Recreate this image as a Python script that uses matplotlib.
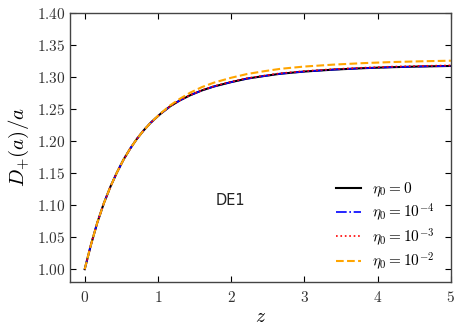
import matplotlib
matplotlib.use("Agg")
import matplotlib.pyplot as plt

plt.rcParams['mathtext.fontset'] = 'cm'
plt.rcParams['font.family'] = 'serif'
plt.rcParams['font.serif'] = ['cmr10', 'DejaVu Serif']
plt.rcParams['axes.formatter.use_mathtext'] = True

# data
z_vals = [0.0, 0.08, 0.17, 0.26, 0.35, 0.44, 0.53, 0.62, 0.71, 0.80, 0.90, 1.03, 1.17,
          1.30, 1.44, 1.60, 1.76, 2.0, 2.22, 2.45, 2.67, 3.0, 3.4, 3.8, 4.2, 4.6, 5.0]
d_eta0 = [1.000, 1.036, 1.072, 1.1025, 1.1285, 1.151, 1.171, 1.188, 1.203, 1.216, 1.2285,
          1.242, 1.2545, 1.2635, 1.2715, 1.279, 1.285, 1.292, 1.2975, 1.3015, 1.305,
          1.3085, 1.3115, 1.3137, 1.3153, 1.3164, 1.3172]
d_eta4 = [1.000, 1.036, 1.072, 1.1025, 1.1285, 1.151, 1.171, 1.188, 1.203, 1.216, 1.2285,
          1.242, 1.2545, 1.2635, 1.2715, 1.279, 1.285, 1.292, 1.2975, 1.3015, 1.305,
          1.3085, 1.3115, 1.3137, 1.3153, 1.3164, 1.3172]
d_eta3 = [1.000, 1.036, 1.072, 1.1025, 1.1285, 1.151, 1.171, 1.188, 1.203, 1.216, 1.2285,
          1.242, 1.2546, 1.2637, 1.2718, 1.2794, 1.2855, 1.2926, 1.2982, 1.3022, 1.3058,
          1.3093, 1.3123, 1.3145, 1.3162, 1.3173, 1.3181]
d_eta2 = [1.000, 1.036, 1.072, 1.1025, 1.1285, 1.151, 1.171, 1.188, 1.203, 1.216, 1.2285,
          1.2425, 1.256, 1.266, 1.2755, 1.2842, 1.291, 1.2988, 1.3047, 1.309, 1.3127,
          1.3163, 1.3193, 1.3216, 1.3233, 1.3245, 1.3254]

labels = [r'$\eta_0 = 0$', r'$\eta_0 = 10^{-4}$', r'$\eta_0 = 10^{-3}$', r'$\eta_0 = 10^{-2}$']
x_ticks = [0, 1, 2, 3, 4, 5]
y_ticks = [1.00, 1.05, 1.10, 1.15, 1.20, 1.25, 1.30, 1.35, 1.40]
y_tick_labels = ['1.00', '1.05', '1.10', '1.15', '1.20', '1.25', '1.30', '1.35', '1.40']
annotation = 'DE1'

fig = plt.figure(figsize=(4.61, 3.31), dpi=100)
ax = fig.add_axes([0.152, 0.148, 0.826, 0.813])

ax.plot(z_vals, d_eta0, color='black', lw=1.5, ls='-', label=labels[0])
ax.plot(z_vals, d_eta4, color='blue', lw=1.2, ls='-.', label=labels[1])
ax.plot(z_vals, d_eta3, color='red', lw=1.2, ls=':', label=labels[2])
ax.plot(z_vals, d_eta2, color='orange', lw=1.5, ls='--', label=labels[3])

ax.set_xlim(-0.2, 5)
ax.set_ylim(0.98, 1.40)
ax.set_xticks(x_ticks)
ax.set_xticklabels([f'${t}$' for t in x_ticks])
ax.set_yticks(y_ticks)
ax.set_yticklabels([f'${t}$' for t in y_tick_labels])
ax.tick_params(direction='in', top=True, right=True, length=4, width=0.8, labelsize=11,
               labelcolor='#333333')
ax.tick_params(axis='x', pad=6)
for s in ax.spines.values():
    s.set_color('#444444')
    s.set_linewidth(1.0)

ax.set_xlabel(r'$z$', fontsize=14, labelpad=2)
ax.set_ylabel(r'$D_{+}(a)/a$', fontsize=15, labelpad=4)

ax.text(1.99, 1.107, annotation, family='DejaVu Sans', fontsize=10.5, ha='center',
        va='center', color='#222222')

ax.legend(loc='lower right', bbox_to_anchor=(0.972, 0.013), frameon=False, fontsize=11,
          handlelength=1.6, handletextpad=0.7, labelspacing=0.2, borderaxespad=0.0)

fig.savefig('out.png', dpi=100)
